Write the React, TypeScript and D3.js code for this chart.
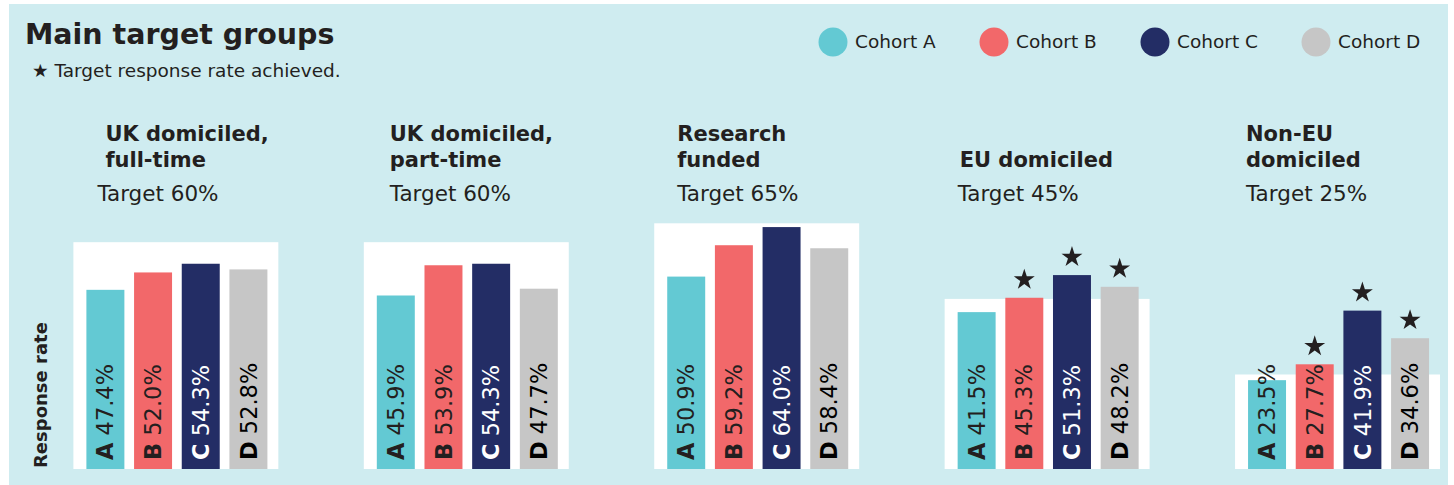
import React from "react";
import * as d3 from "d3";

const groupTitles: string[][] = [
  ["UK domiciled,", "full-time"],
  ["UK domiciled,", "part-time"],
  ["Research", "funded"],
  ["", "EU domiciled"],
  ["Non-EU", "domiciled"],
];
const targets = [60, 60, 65, 45, 25];
const cohorts = ["A", "B", "C", "D"];
const cohortNames = ["Cohort A", "Cohort B", "Cohort C", "Cohort D"];
const valuesA = [47.4, 45.9, 50.9, 41.5, 23.5];
const valuesB = [52.0, 53.9, 59.2, 45.3, 27.7];
const valuesC = [54.3, 54.3, 64.0, 51.3, 41.9];
const valuesD = [52.8, 47.7, 58.4, 48.2, 34.6];
const seriesValues = [valuesA, valuesB, valuesC, valuesD];

const colors = ["#63c9d3", "#f2686a", "#232d65", "#c6c6c6"];
const labelColors = ["#231f20", "#231f20", "#ffffff", "#000000"];
const titleOffsets = [32, 26, 23, 15, 11];
const targetOffsets = [24, 26, 23, 13, 11];

const W = 1454;
const H = 485;
const FONT = "'DejaVu Sans', Verdana, sans-serif";
const INK = "#231f20";

export default function App() {
  const groupIdx = groupTitles.map((_, i) => i);
  const xGroup = d3.scaleBand<number>().domain(groupIdx).range([73.4, 1440]).paddingInner(0.2943).paddingOuter(0);
  const y = d3.scaleLinear().domain([0, 100]).range([469, 91]);
  const legendX = d3.scalePoint<string>().domain(cohortNames).range([833, 1316]);
  const starPath = d3.symbol().type(d3.symbolStar).size(136)() as string;

  return (
    <svg width={W} height={H} style={{ position: "absolute", left: 0, top: 0 }} fontFamily={FONT}>
      <rect x={0} y={0} width={W} height={H} fill="#ffffff" />
      <rect x={9} y={4} width={1439} height={H} fill="#cfecf0" />
      <text x={25} y={44} fontSize={28.5} fontWeight="bold" fill={INK}>Main target groups</text>
      <text x={32} y={77} fontSize={18.5} fill={INK}>★ Target response rate achieved.</text>

      {cohortNames.map((n, i) => (
        <g key={n}>
          <circle cx={legendX(n)} cy={42} r={14.5} fill={colors[i]} />
          <text x={(legendX(n) as number) + 22} y={48} fontSize={18.5} fill={INK}>{n}</text>
        </g>
      ))}

      <text transform={`translate(41,468) rotate(-90)`} dy="0.36em" fontSize={18} fontWeight="bold" fill={INK}>Response rate</text>

      {groupIdx.map((g) => {
        const x0 = xGroup(g) as number;
        const xBar = d3.scaleBand<string>().domain(cohorts).range([x0 + 13, x0 + 194]).paddingInner(0.2034).paddingOuter(0);
        return (
          <g key={g}>
            {groupTitles[g].map((line, li) => (
              <text key={li} x={x0 + titleOffsets[g]} y={141 + li * 26} fontSize={21} fontWeight="bold" fill={INK}>{line}</text>
            ))}
            <text x={x0 + targetOffsets[g]} y={201} fontSize={21.5} fill={INK}>Target {targets[g]}%</text>
            <rect x={x0} y={y(targets[g])} width={xGroup.bandwidth()} height={y(0) - y(targets[g])} fill="#ffffff" />
            {cohorts.map((c, ci) => {
              const v = seriesValues[ci][g];
              const bx = xBar(c) as number;
              const bw = xBar.bandwidth();
              const cx = bx + bw / 2;
              return (
                <g key={c}>
                  <rect x={bx} y={y(v)} width={bw} height={y(0) - y(v)} fill={colors[ci]} />
                  <text transform={`translate(${cx},460) rotate(-90)`} dy="0.36em" fontSize={22.5} fill={labelColors[ci]}>
                    <tspan fontWeight="bold">{c}</tspan>
                    <tspan>{` ${v.toFixed(1)}%`}</tspan>
                  </text>
                  {v >= targets[g] && (
                    <path d={starPath} transform={`translate(${cx},${y(v) - 18})`} fill={INK} />
                  )}
                </g>
              );
            })}
          </g>
        );
      })}
    </svg>
  );
}
